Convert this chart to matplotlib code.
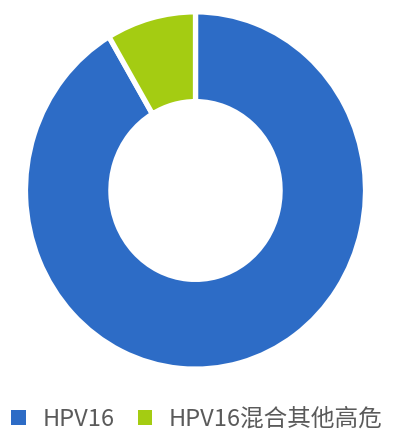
import matplotlib
matplotlib.use("Agg")
import matplotlib.pyplot as plt
from matplotlib.patches import Patch

plt.rcParams['font.family'] = ['Noto Sans CJK SC', 'DejaVu Sans']

# Share of cases by infection type
categories = ["HPV16", "HPV16混合其他高危"]
values = [91.5, 8.5]
colors = ["#2d6cc6", "#a4cc12"]

W, H, DPI = 393, 433, 100
fig = plt.figure(figsize=(W / DPI, H / DPI), dpi=DPI)
fig.patch.set_facecolor("white")

# Axes fill the figure; donut centre and radii set in pixel units
cx, cy = 195.5, 433 - 190.5
rx, ry = 167.5, 176.0
ax = fig.add_axes([0, 0, 1, 1])

edge_lw = 3.8
wedges, _ = ax.pie(
    values,
    colors=colors,
    startangle=90,
    counterclock=False,
    radius=1.015,
    wedgeprops=dict(width=0.51, edgecolor="white", linewidth=edge_lw),
)
ax.set_aspect("auto")
ax.set_xlim((0 - cx) / rx, (W - cx) / rx)
ax.set_ylim((0 - cy) / ry, (H - cy) / ry)
ax.axis("off")

handles = [Patch(facecolor=c, edgecolor="none") for c in colors]
fig.legend(
    handles, categories,
    loc="center left",
    bbox_to_anchor=(11 / W, 14 / H),
    ncol=2,
    frameon=False,
    fontsize=17,
    labelcolor="#5a5a5a",
    handlelength=0.62,
    handleheight=0.62,
    handletextpad=0.7,
    columnspacing=1.0,
    borderpad=0,
    borderaxespad=0,
)

fig.savefig("out.png", dpi=DPI)
